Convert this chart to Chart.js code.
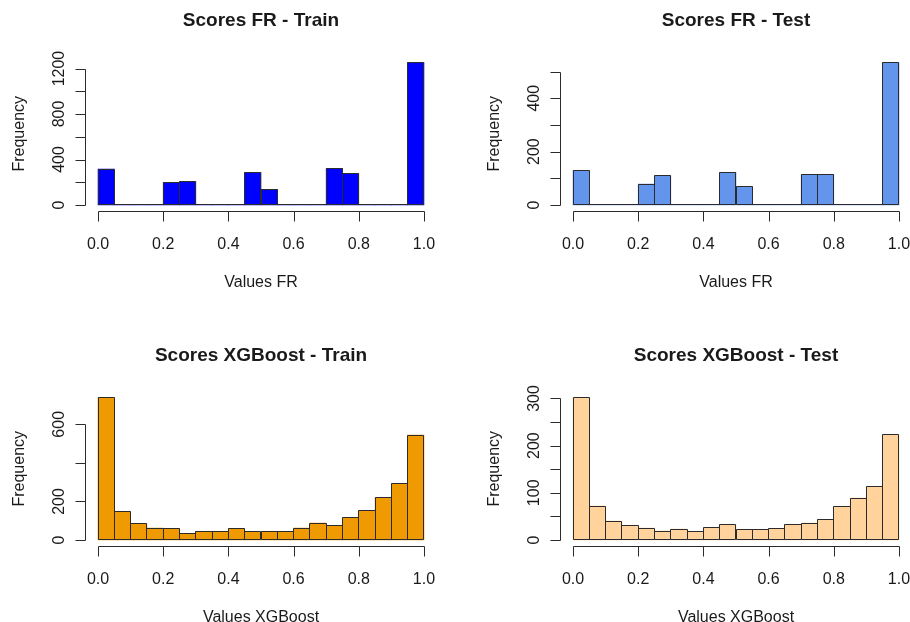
<!DOCTYPE html>
<html>
<head>
<meta charset="utf-8">
<script src="https://cdn.jsdelivr.net/npm/chart.js@4/dist/chart.umd.min.js"></script>
<style>
  html, body { margin: 0; padding: 0; background: #fff; overflow: hidden; width: 910px; height: 622px; }
  .panel { position: absolute; width: 455px; height: 334px; }
  canvas { display: block; }
</style>
</head>
<body>
<div class="panel" style="left:0;top:0"><canvas id="frTrainChart" width="455" height="334"></canvas></div>
<div class="panel" style="left:475px;top:0"><canvas id="frTestChart" width="455" height="334"></canvas></div>
<div class="panel" style="left:0;top:335px"><canvas id="xgbTrainChart" width="455" height="334"></canvas></div>
<div class="panel" style="left:475px;top:335px"><canvas id="xgbTestChart" width="455" height="334"></canvas></div>

<script>
// Histogram bins: left edges of the 20 bins of width 0.05 on [0, 1]
const binStarts = [0.00, 0.05, 0.10, 0.15, 0.20, 0.25, 0.30, 0.35, 0.40, 0.45,
                   0.50, 0.55, 0.60, 0.65, 0.70, 0.75, 0.80, 0.85, 0.90, 0.95];
const binWidth = 0.05;

// Counts per bin
const frTrainCounts  = [315, 0, 0, 0, 197, 206, 0, 0, 0, 285, 138, 0, 0, 0, 320, 276, 0, 0, 0, 1253];
const frTestCounts   = [130, 0, 0, 0, 78, 109, 0, 0, 0, 122, 69, 0, 0, 0, 115, 115, 0, 0, 0, 534];
const xgbTrainCounts = [739, 146, 85, 62, 59, 35, 45, 45, 59, 42, 45, 45, 62, 88, 76, 116, 154, 220, 291, 544];
const xgbTestCounts  = [302, 72, 40, 31, 25, 19, 23, 17, 26, 32, 22, 22, 24, 33, 36, 44, 70, 89, 114, 223];

// Axis ticks and their labels (blank = tick without label)
const xTicks = [0, 0.2, 0.4, 0.6, 0.8, 1.0];
const xTickLabels = ['0.0', '0.2', '0.4', '0.6', '0.8', '1.0'];

const frTrainYTicks  = [0, 200, 400, 600, 800, 1000, 1200];
const frTrainYLabels = ['0', '', '400', '', '800', '', '1200'];
const frTestYTicks   = [0, 100, 200, 300, 400, 500];
const frTestYLabels  = ['0', '', '200', '', '400', ''];
const xgbTrainYTicks  = [0, 200, 400, 600];
const xgbTrainYLabels = ['0', '200', '', '600'];
const xgbTestYTicks  = [0, 50, 100, 150, 200, 250, 300];
const xgbTestYLabels = ['0', '', '100', '', '200', '', '300'];

const FONT = '"Liberation Sans", Arial, Helvetica, sans-serif';
const INK = '#1a1a1a';
const AXIS = '#2b2b2b';
const TICK_LEN = 10;

// Base-graphics style axes, outlines and titles drawn around the plot region
const baseAxes = {
  id: 'baseAxes',
  afterDatasetsDraw(chart, args, o) {
    const { ctx, chartArea, scales: { x, y } } = chart;
    const bars = chart.getDatasetMeta(0).data;
    ctx.save();

    // bar outlines, snapped onto the outermost filled pixel rows/columns
    // (zero-count bins leave a line on the baseline)
    ctx.strokeStyle = AXIS;
    ctx.lineWidth = 1;
    const yBase = Math.ceil(y.getPixelForValue(0) - 1e-6) - 0.5;
    bars.forEach(b => {
      const l = Math.floor(b.x - b.width / 2 + 1e-6) + 0.5;
      const r = Math.ceil(b.x + b.width / 2 - 1e-6) - 0.5;
      const t = Math.min(Math.floor(b.y + 1e-6) + 0.5, yBase);
      ctx.beginPath();
      ctx.rect(l, t, r - l, yBase - t);
      ctx.stroke();
    });

    // x axis
    const ax = Math.round(chartArea.bottom) + 0.5;
    const xs = xTicks.map(v => Math.round(x.getPixelForValue(v)) + 0.5);
    ctx.beginPath();
    ctx.moveTo(xs[0], ax);
    ctx.lineTo(xs[xs.length - 1], ax);
    xs.forEach(px => { ctx.moveTo(px, ax); ctx.lineTo(px, ax + TICK_LEN); });
    ctx.stroke();

    ctx.fillStyle = INK;
    ctx.font = '16px ' + FONT;
    ctx.textAlign = 'center';
    ctx.textBaseline = 'alphabetic';
    xTicks.forEach((v, i) => ctx.fillText(xTickLabels[i], x.getPixelForValue(v), ax + 37));
    ctx.fillText(o.xTitle, (chartArea.left + chartArea.right) / 2, ax + 75);

    // y axis
    const ay = Math.round(chartArea.left) + 0.5;
    const ys = o.yTicks.map(v => Math.round(y.getPixelForValue(v)) + 0.5);
    ctx.beginPath();
    ctx.moveTo(ay, ys[0]);
    ctx.lineTo(ay, ys[ys.length - 1]);
    ys.forEach(py => { ctx.moveTo(ay, py); ctx.lineTo(ay - TICK_LEN, py); });
    ctx.stroke();

    o.yTicks.forEach((v, i) => {
      if (!o.yLabels[i]) return;
      ctx.save();
      ctx.translate(ay - 22, y.getPixelForValue(v));
      ctx.rotate(-Math.PI / 2);
      ctx.fillText(o.yLabels[i], 0, 0);
      ctx.restore();
    });

    ctx.save();
    ctx.translate(ay - 62, (chartArea.top + chartArea.bottom) / 2);
    ctx.rotate(-Math.PI / 2);
    ctx.fillText('Frequency', 0, 0);
    ctx.restore();

    // main title
    ctx.font = 'bold 19px ' + FONT;
    ctx.fillText(o.title, (chartArea.left + chartArea.right) / 2, chartArea.top - 31.3);

    ctx.restore();
  }
};

function histogram(canvasId, counts, color, title, xTitle, yTicks, yLabels) {
  const top = Math.max(...counts);
  new Chart(document.getElementById(canvasId), {
    type: 'bar',
    data: {
      datasets: [{
        data: binStarts.map((s, i) => ({ x: s + binWidth / 2, y: counts[i] })),
        backgroundColor: color,
        borderWidth: 0,
        barPercentage: 1,
        categoryPercentage: 1
      }]
    },
    options: {
      responsive: false,
      animation: false,
      devicePixelRatio: 1,
      layout: { padding: { left: 85, right: 18, top: 56.8, bottom: 123.3 } },
      plugins: {
        legend: { display: false },
        tooltip: { enabled: false },
        baseAxes: { title, xTitle, yTicks, yLabels }
      },
      scales: {
        x: {
          type: 'linear',
          display: false,
          offset: false,
          min: -0.04,
          max: 1.04,
          afterBuildTicks: s => { s.ticks = xTicks.map(v => ({ value: v })); }
        },
        y: {
          type: 'linear',
          display: false,
          min: -0.04 * top,
          max: 1.04 * top
        }
      }
    },
    plugins: [baseAxes]
  });
}

histogram('frTrainChart', frTrainCounts, '#0000FF', 'Scores FR - Train', 'Values FR', frTrainYTicks, frTrainYLabels);
histogram('frTestChart', frTestCounts, '#6495ED', 'Scores FR - Test', 'Values FR', frTestYTicks, frTestYLabels);
histogram('xgbTrainChart', xgbTrainCounts, '#EE9A00', 'Scores XGBoost - Train', 'Values XGBoost', xgbTrainYTicks, xgbTrainYLabels);
histogram('xgbTestChart', xgbTestCounts, '#FFD39B', 'Scores XGBoost - Test', 'Values XGBoost', xgbTestYTicks, xgbTestYLabels);
</script>
</body>
</html>
